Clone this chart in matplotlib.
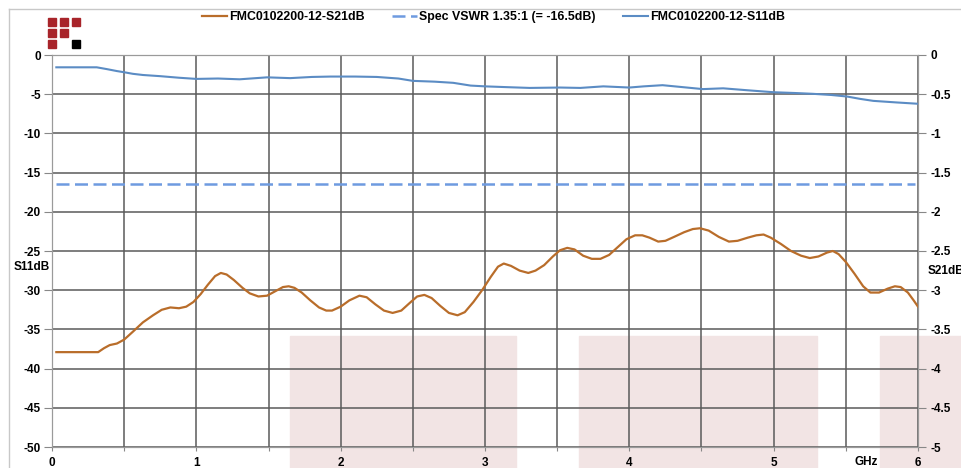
import numpy as np
import matplotlib.pyplot as plt
from matplotlib.patches import Rectangle
from matplotlib.lines import Line2D

plt.rcParams['font.family'] = ['Liberation Sans', 'DejaVu Sans']
plt.rcParams['font.weight'] = 'bold'
plt.rcParams['axes.unicode_minus'] = False

# S21 trace (orange), read on the left axis in dB
s21_ghz = [0.03, 0.32, 0.36, 0.40, 0.45, 0.50, 0.56, 0.63, 0.70, 0.76, 0.82, 0.88, 0.93, 0.98,
           1.03, 1.08, 1.13, 1.17, 1.21, 1.26, 1.32, 1.37, 1.43, 1.49, 1.55, 1.60, 1.64, 1.68,
           1.73, 1.79, 1.85, 1.90, 1.94, 2.00, 2.06, 2.13, 2.18, 2.24, 2.30, 2.36, 2.42, 2.48,
           2.53, 2.58, 2.63, 2.69, 2.75, 2.81, 2.86, 2.92, 2.98, 3.04, 3.09, 3.13, 3.18, 3.24,
           3.30, 3.35, 3.41, 3.47, 3.52, 3.57, 3.62, 3.68, 3.74, 3.80, 3.86, 3.92, 3.98, 4.04,
           4.09, 4.14, 4.20, 4.25, 4.31, 4.38, 4.44, 4.49, 4.55, 4.62, 4.69, 4.75, 4.82, 4.88,
           4.93, 4.98, 5.05, 5.12, 5.19, 5.25, 5.31, 5.37, 5.41, 5.45, 5.50, 5.56, 5.62, 5.67,
           5.73, 5.79, 5.84, 5.88, 5.93, 5.97, 6.00]
s21_db = [-37.9, -37.9, -37.4, -37.0, -36.8, -36.3, -35.3, -34.1, -33.2, -32.5, -32.2, -32.3, -32.1, -31.5,
          -30.5, -29.3, -28.2, -27.8, -28.0, -28.7, -29.7, -30.4, -30.8, -30.7, -30.1, -29.6, -29.5, -29.7,
          -30.3, -31.3, -32.2, -32.6, -32.6, -32.1, -31.3, -30.7, -30.9, -31.8, -32.6, -32.9, -32.6, -31.6,
          -30.8, -30.6, -31.0, -32.0, -32.9, -33.2, -32.8, -31.5, -30.0, -28.3, -27.0, -26.6, -26.9, -27.5,
          -27.8, -27.5, -26.8, -25.7, -24.9, -24.6, -24.8, -25.6, -26.0, -26.0, -25.5, -24.5, -23.5, -23.0,
          -23.0, -23.3, -23.8, -23.7, -23.2, -22.6, -22.2, -22.1, -22.4, -23.2, -23.8, -23.7, -23.3, -23.0,
          -22.9, -23.3, -24.1, -25.0, -25.6, -25.9, -25.7, -25.2, -25.0, -25.4, -26.4, -27.9, -29.5, -30.3,
          -30.3, -29.8, -29.5, -29.6, -30.3, -31.3, -32.1]

# S11 trace (blue), read on the right axis
s11_ghz = [0.03, 0.31, 0.38, 0.45, 0.50, 0.56, 0.63, 0.75, 0.88, 1.00, 1.15, 1.30, 1.49, 1.65,
           1.80, 1.93, 2.10, 2.25, 2.40, 2.50, 2.65, 2.78, 2.90, 3.00, 3.15, 3.31, 3.52, 3.66,
           3.82, 4.00, 4.10, 4.23, 4.37, 4.51, 4.65, 4.82, 5.00, 5.15, 5.27, 5.40, 5.51, 5.60,
           5.69, 5.85, 6.00]
s11_db = [-0.157, -0.157, -0.18, -0.205, -0.22, -0.24, -0.255, -0.27, -0.29, -0.305, -0.30, -0.31, -0.285, -0.295,
          -0.28, -0.275, -0.275, -0.28, -0.30, -0.33, -0.34, -0.355, -0.39, -0.40, -0.41, -0.42, -0.415, -0.42,
          -0.40, -0.415, -0.40, -0.385, -0.41, -0.435, -0.425, -0.45, -0.475, -0.485, -0.495, -0.51, -0.53, -0.56,
          -0.585, -0.605, -0.622]

spec_db = -16.5
legend_labels = ['FMC0102200-12-S21dB', 'Spec VSWR 1.35:1 (= -16.5dB)', 'FMC0102200-12-S11dB']

orange = '#B96D2A'
blue = '#5B8CC4'
spec_blue = '#6E9BE0'
grid_c = '#5a5a5a'

fig = plt.figure(figsize=(9.61, 4.68), dpi=100)

# background watermark blocks and frame
for x0, x1 in [(290, 516), (579, 817), (880, 961)]:
    fig.patches.append(Rectangle((x0 / 961, 0), (x1 - x0) / 961, (468 - 336) / 468,
                                 transform=fig.transFigure, color='#F2E4E4', zorder=-1))
fig.add_artist(Line2D([9 / 961, 1], [1 - 9 / 468] * 2, color='#c8c8c8', lw=1))
fig.add_artist(Line2D([9 / 961] * 2, [0, 1 - 9 / 468], color='#c8c8c8', lw=1))

# little logo squares
sq = 8
for col, row, c in [(0, 0, '#A8242A'), (1, 0, '#A8242A'), (2, 0, '#A8242A'),
                    (0, 1, '#A8242A'), (1, 1, '#A8242A'), (0, 2, '#A8242A'), (2, 2, 'black')]:
    px = 48 + col * 12
    py = 18 + row * 11
    fig.patches.append(Rectangle((px / 961, 1 - (py + sq) / 468), sq / 961, sq / 468,
                                 transform=fig.transFigure, color=c, zorder=1))

ax = fig.add_axes([52 / 961, 21 / 468, 866 / 961, 392 / 468])
ax.set_facecolor('none')
ax2 = ax.twinx()

ax.plot(s21_ghz, s21_db, color=orange, lw=1.6, label=legend_labels[0])
ax.axhline(spec_db, xmin=0.005, xmax=0.997, color=spec_blue, lw=1.8, dashes=(5.2, 2.2), label=legend_labels[1])
ax2.plot(s11_ghz, s11_db, color=blue, lw=1.5, label=legend_labels[2])

ax.set_xlim(0, 6)
ax.set_ylim(-50, 0)
ax2.set_ylim(-5, 0)
ax.set_xticks(np.arange(0, 6.01, 0.5))
ax.set_xticklabels([str(int(v)) if v == int(v) else '' for v in np.arange(0, 6.01, 0.5)])
ax.set_yticks(np.arange(-50, 1, 5))
ax2.set_yticks(np.arange(-5, 0.01, 0.5))
ax2.set_yticklabels(['%g' % v for v in np.arange(-5, 0.01, 0.5)])
ax.grid(True, color=grid_c, lw=1.1)
ax.set_axisbelow(True)

ax.tick_params(axis='y', labelsize=8.5, length=6, color='#888888', pad=2)
ax.tick_params(axis='x', labelsize=8.5, length=3, color='#888888', pad=4)
ax2.tick_params(axis='y', labelsize=8.5, length=6, color='#888888', pad=3)
for a in (ax, ax2):
    for s in a.spines.values():
        s.set_color('#9a9a9a')

fig.text(50 / 961, 1 - 267 / 468, 'S11dB', ha='right', va='center', fontsize=8.5)
fig.text(928 / 961, 1 - 271 / 468, 'S21dB', ha='left', va='center', fontsize=8.5)
ax.text(5.64, -0.022, 'GHz', transform=ax.get_xaxis_transform(), ha='center', va='top', fontsize=8.5)

h1, l1 = ax.get_legend_handles_labels()
h2, l2 = ax2.get_legend_handles_labels()
fig.legend(h1 + h2, l1 + l2, loc='center', bbox_to_anchor=(0.5135, 1 - 17 / 468), ncol=3,
           frameon=False, fontsize=8.9, handlelength=2.0, handletextpad=0.2, columnspacing=2.2)

fig.savefig('out.png', dpi=100)
